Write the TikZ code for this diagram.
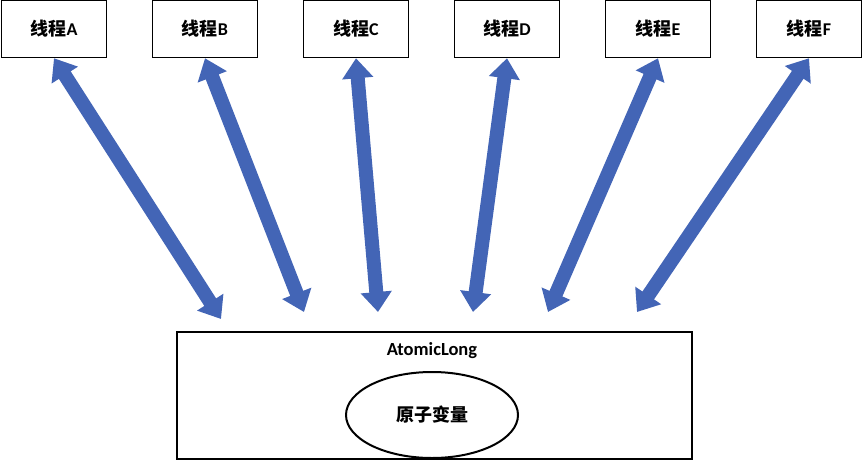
\documentclass[tikz,border=0pt]{standalone}
\usepackage{fontspec}
\setmainfont{Carlito}
\newfontfamily\cjk{Noto Sans CJK SC}
\usetikzlibrary{arrows.meta,shapes.geometric}
\definecolor{linkblue}{HTML}{4365B6}

\begin{document}
\begin{tikzpicture}[x=1pt, y=-1pt,
  thread/.style={draw, line width=1.5pt, minimum width=105pt, minimum height=57pt,
    font=\bfseries\fontsize{18}{20}\selectfont},
  link/.style={draw=linkblue, line width=14pt,
    {Triangle[width=30pt,length=20pt]}-{Triangle[width=30pt,length=20pt]}}]
  \useasboundingbox (0,0) rectangle (864,461);

  % Threads on top
  \foreach \t [count=\i] in {A,B,C,D,E,F} {
    \node[thread] (t\t) at ({54+151*(\i-1)}, 29) {{\cjk 线程}\t};
  }

  % AtomicLong box with the variable inside
  \node[draw, line width=1.5pt, minimum width=515pt, minimum height=127pt] (mem) at (434.5, 395.5) {};
  \node[font=\bfseries\fontsize{18.5}{20}\selectfont] (name) at (432, 351) {AtomicLong};
  \node[draw, ellipse, line width=2pt, minimum width=172pt, minimum height=86pt,
    font=\cjk\bfseries\fontsize{18}{20}\selectfont] (var) at (432, 415) {原子变量};

  % Access arrows
  \foreach \t/\x/\y in {A/221/319, B/304/312, C/378/312, D/473/312, E/548/312, F/637/312} {
    \coordinate (p\t) at (\x, \y);
    \draw[link] (t\t.south) -- (p\t);
  }
\end{tikzpicture}
\end{document}
